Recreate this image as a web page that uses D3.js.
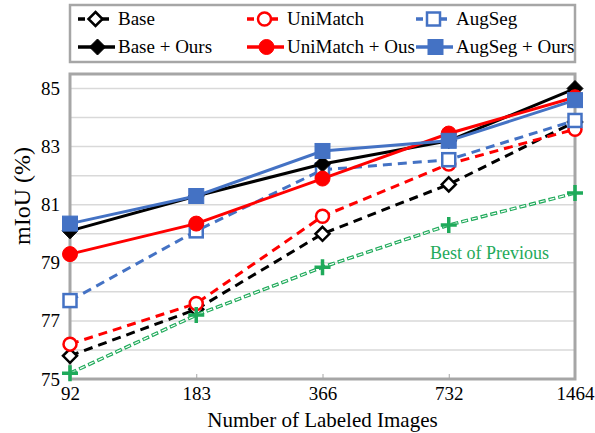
<!DOCTYPE html>
<html>
<head>
<meta charset="utf-8">
<script src="https://cdn.jsdelivr.net/npm/d3@7"></script>
<style>
  body { margin: 0; background: #fff; }
  svg { display: block; }
  text { font-family: 'Liberation Serif', 'Times New Roman', serif; }
</style>
</head>
<body>
<script>
const SVG_WIDTH = 595;
const SVG_HEIGHT = 433;
const margin = { top: 74, right: 20, bottom: 54, left: 70 };
const FONT = "'Liberation Serif', 'Times New Roman', serif";

const labeledImages = ['92', '183', '366', '732', '1464'];
const yTicks = [75, 77, 79, 81, 83, 85];

const base = [75.8, 77.4, 80.0, 81.7, 83.85];
const uniMatch = [76.2, 77.6, 80.6, 82.4, 83.6];
const augSeg = [77.7, 80.1, 82.2, 82.55, 83.9];
const bestOfPrevious = [75.2, 77.2, 78.85, 80.3, 81.4];
const baseOurs = [80.1, 81.3, 82.4, 83.2, 85.0];
const uniMatchOurs = [79.3, 80.35, 81.9, 83.45, 84.7];
const augSegOurs = [80.35, 81.3, 82.85, 83.2, 84.6];

const BLACK = '#000000';
const RED = '#ff0000';
const BLUE = '#4472c4';
const GREEN = '#1faa5a';
const FRAME = '#a6a6a6';

const series = [
  { name: 'Base', values: base, color: BLACK, dashed: true, marker: 'diamond', filled: false },
  { name: 'UniMatch', values: uniMatch, color: RED, dashed: true, marker: 'circle', filled: false },
  { name: 'AugSeg', values: augSeg, color: BLUE, dashed: true, marker: 'square', filled: false },
  { name: 'Best of Previous', values: bestOfPrevious, color: GREEN, dashed: true, marker: 'plus', hollow: true },
  { name: 'Base + Ours', values: baseOurs, color: BLACK, dashed: false, marker: 'diamond', filled: true },
  { name: 'UniMatch + Ous', values: uniMatchOurs, color: RED, dashed: false, marker: 'circle', filled: true },
  { name: 'AugSeg + Ours', values: augSegOurs, color: BLUE, dashed: false, marker: 'square', filled: true }
];

const svg = d3.select('body').append('svg')
  .attr('width', SVG_WIDTH)
  .attr('height', SVG_HEIGHT)
  .attr('font-family', FONT);

const x = d3.scalePoint()
  .domain(labeledImages)
  .range([margin.left, SVG_WIDTH - margin.right]);

const y = d3.scaleLinear()
  .domain([75, 85.5])
  .range([SVG_HEIGHT - margin.bottom, margin.top]);

// gridlines every 1 point
svg.append('g')
  .selectAll('line')
  .data(d3.range(76, 86))
  .join('line')
  .attr('x1', margin.left)
  .attr('x2', SVG_WIDTH - margin.right)
  .attr('y1', d => y(d))
  .attr('y2', d => y(d))
  .attr('stroke', '#d9d9d9')
  .attr('stroke-width', 1.5);

// plot frame
svg.append('rect')
  .attr('x', margin.left)
  .attr('y', margin.top)
  .attr('width', SVG_WIDTH - margin.right - margin.left)
  .attr('height', SVG_HEIGHT - margin.bottom - margin.top)
  .attr('fill', 'none')
  .attr('stroke', FRAME)
  .attr('stroke-width', 3);

const xAxis = svg.append('g')
  .attr('transform', `translate(0,${SVG_HEIGHT - margin.bottom})`)
  .call(d3.axisBottom(x).tickSize(-5).tickPadding(8))
  .attr('font-family', FONT)
  .attr('font-size', 19);
xAxis.select('.domain').remove();
xAxis.selectAll('.tick line').attr('stroke', FRAME).attr('stroke-width', 1);
xAxis.selectAll('.tick text').attr('fill', '#000');

const yAxis = svg.append('g')
  .attr('transform', `translate(${margin.left},0)`)
  .call(d3.axisLeft(y).tickValues(yTicks).tickSize(0).tickPadding(10))
  .attr('font-family', FONT)
  .attr('font-size', 19);
yAxis.select('.domain').remove();
yAxis.selectAll('.tick text').attr('fill', '#000');

svg.append('text')
  .attr('x', (margin.left + SVG_WIDTH - margin.right) / 2)
  .attr('y', 427)
  .attr('text-anchor', 'middle')
  .attr('font-size', 21)
  .text('Number of Labeled Images');

svg.append('text')
  .attr('transform', 'translate(30,196) rotate(-90)')
  .attr('text-anchor', 'middle')
  .attr('font-size', 24)
  .text('mIoU (%)');

const drawMarker = (g, s, cx, cy) => {
  const fill = s.filled ? s.color : '#fff';
  if (s.marker === 'diamond') {
    const r = s.filled ? 8 : 7;
    g.append('path')
      .attr('d', `M${cx},${cy - r}L${cx + r},${cy}L${cx},${cy + r}L${cx - r},${cy}Z`)
      .attr('fill', fill).attr('stroke', s.color).attr('stroke-width', s.filled ? 1 : 2.5);
  } else if (s.marker === 'circle') {
    g.append('circle')
      .attr('cx', cx).attr('cy', cy).attr('r', s.filled ? 7.5 : 6.5)
      .attr('fill', fill).attr('stroke', s.color).attr('stroke-width', s.filled ? 1 : 2.5);
  } else if (s.marker === 'square') {
    const r = s.filled ? 7.5 : 6.5;
    g.append('rect')
      .attr('x', cx - r).attr('y', cy - r).attr('width', 2 * r).attr('height', 2 * r)
      .attr('fill', fill).attr('stroke', s.color).attr('stroke-width', s.filled ? 1 : 2.5);
  } else if (s.marker === 'plus') {
    g.append('path')
      .attr('d', `M${cx - 8},${cy}H${cx + 8}M${cx},${cy - 8}V${cy + 8}`)
      .attr('stroke', s.color).attr('stroke-width', 3.5).attr('fill', 'none');
  }
};

const drawLine = (g, s, pts) => {
  const line = d3.line().x(d => d[0]).y(d => d[1]);
  if (s.hollow) {
    // outlined dashes: green dash with a shorter white core
    g.append('path').attr('d', line(pts))
      .attr('fill', 'none').attr('stroke', s.color).attr('stroke-width', 3.5)
      .attr('stroke-dasharray', '7,3');
    g.append('path').attr('d', line(pts))
      .attr('fill', 'none').attr('stroke', '#fff').attr('stroke-width', 1.2)
      .attr('stroke-dasharray', '5,5')
      .attr('stroke-dashoffset', -1);
  } else {
    g.append('path').attr('d', line(pts))
      .attr('fill', 'none').attr('stroke', s.color).attr('stroke-width', 3)
      .attr('stroke-dasharray', s.dashed ? '9,6' : null);
  }
};

series.forEach(s => {
  const g = svg.append('g');
  const pts = s.values.map((v, i) => [x(labeledImages[i]), y(v)]);
  drawLine(g, s, pts);
  pts.forEach(p => drawMarker(g, s, p[0], p[1]));
});

svg.append('text')
  .attr('x', 549)
  .attr('y', 259)
  .attr('text-anchor', 'end')
  .attr('fill', GREEN)
  .attr('font-size', 18)
  .text('Best of Previous');

// legend
const legendCols = [78, 247, 416];
const legendRows = [19, 47];
const legendOrder = [
  ['Base', 'UniMatch', 'AugSeg'],
  ['Base + Ours', 'UniMatch + Ous', 'AugSeg + Ours']
];

const legend = svg.append('g');
legend.append('rect')
  .attr('x', 70).attr('y', 5)
  .attr('width', 505).attr('height', 57)
  .attr('fill', '#fff')
  .attr('stroke', FRAME)
  .attr('stroke-width', 2.5);

legendOrder.forEach((row, ri) => {
  row.forEach((name, ci) => {
    const s = series.find(d => d.name === name);
    const g = legend.append('g');
    const lx = legendCols[ci];
    const ly = legendRows[ri];
    const w = s.dashed ? 33 : 37;
    g.append('line')
      .attr('x1', lx).attr('x2', lx + w)
      .attr('y1', ly).attr('y2', ly)
      .attr('stroke', s.color).attr('stroke-width', 3.5)
      .attr('stroke-dasharray', s.dashed ? '7,5' : null);
    drawMarker(g, s, lx + w / 2 + 1, ly);
    g.append('text')
      .attr('x', lx + 40)
      .attr('y', ly + 6)
      .attr('font-size', 19)
      .text(name);
  });
});
</script>
</body>
</html>
